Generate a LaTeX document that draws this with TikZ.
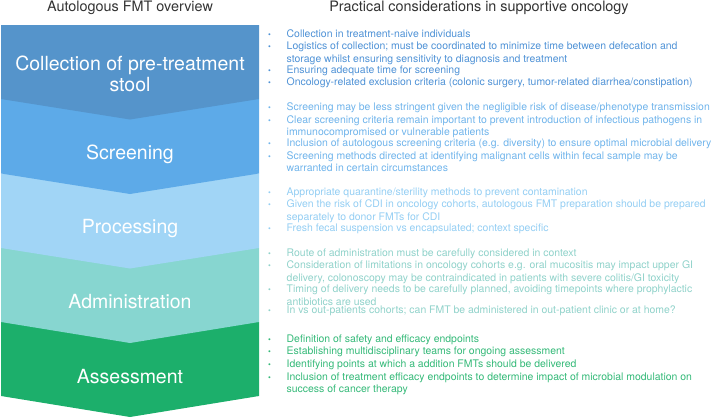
\documentclass[tikz,border=0pt]{standalone}
\usepackage{fontspec}
\setmainfont{TeX Gyre Heros}
\definecolor{cA}{HTML}{5594CB}
\definecolor{cB}{HTML}{5DAAE8}
\definecolor{cC}{HTML}{A1D5F6}
\definecolor{cD}{HTML}{87D6D0}
\definecolor{cE}{HTML}{1CAF6B}
\definecolor{tA}{HTML}{4F92D6}
\definecolor{tB}{HTML}{70B4EB}
\definecolor{tC}{HTML}{94CEF3}
\definecolor{tD}{HTML}{90D2CA}
\definecolor{tE}{HTML}{34B978}
\definecolor{ttl}{HTML}{333333}
\newcommand\bitem[1]{\par\noindent\makebox[19.5pt][l]{\hspace{1pt}{\fontsize{8}{8}\selectfont\textbullet}}\parbox[t]{440pt}{\baselineskip=12.6pt\raggedright #1}}
\newcommand\blist[1]{\parbox[t]{470pt}{\fontsize{10.45}{12.6}\selectfont\normalbaselineskip=12.6pt\baselineskip=12.6pt\parskip=0pt #1}}
\tikzset{
  ttlstyle/.style={text=ttl, font=\fontsize{14.4}{16}\selectfont, inner sep=0pt, anchor=base},
  lblstyle/.style={text=white, font=\fontsize{19.5}{21}\selectfont, inner sep=0pt, anchor=base, align=center},
  liststyle/.style={anchor=base west, inner sep=0pt}
}
\begin{document}
\begin{tikzpicture}[x=1pt,y=-1pt]
\useasboundingbox (0,0) rectangle (718,418);
% chevron blocks (drawn bottom first)
\fill[cE] (1,322) -- (259,322) -- (259,396) -- (130,417) -- (1,396) -- cycle;
\fill[cD] (1,248) -- (259,248) -- (259,322) -- (130,343) -- (1,322) -- cycle;
\fill[cC] (1,173.5) -- (259,173.5) -- (259,248) -- (130,268.5) -- (1,248) -- cycle;
\fill[cB] (1,99) -- (259,99) -- (259,173.5) -- (130,194) -- (1,173.5) -- cycle;
\fill[cA] (1,25) -- (259,25) -- (259,99) -- (130,119.5) -- (1,99) -- cycle;
% titles
\node[ttlstyle] (t1) at (130,11) {Autologous FMT overview};
\node[ttlstyle] (t2) at (479,11) {Practical considerations in supportive oncology};
% block labels
\node[lblstyle] (l1) at (130,91) {Collection of pre-treatment\\stool};
\node[lblstyle] (l2) at (130,159.5) {Screening};
\node[lblstyle] (l3) at (130,233.5) {Processing};
\node[lblstyle] (l4) at (130,308) {Administration};
\node[lblstyle] (l5) at (130,383) {Assessment};
% lists
\node[liststyle, text=tA] (r1) at (267,37) {\blist{%
\bitem{Collection in treatment-naive individuals}%
\bitem{Logistics of collection; must be coordinated to minimize time between defecation and\\storage whilst ensuring sensitivity to diagnosis and treatment}%
\bitem{Ensuring adequate time for screening}%
\bitem{Oncology-related exclusion criteria (colonic surgery, tumor-related diarrhea/constipation)}}};
\node[liststyle, text=tB] (r2) at (267,110.5) {\blist{%
\bitem{Screening may be less stringent given the negligible risk of disease/phenotype transmission}%
\bitem{Clear screening criteria remain important to prevent introduction of infectious pathogens in\\immunocompromised or vulnerable patients}%
\bitem{Inclusion of autologous screening criteria (e.g. diversity) to ensure optimal microbial delivery}%
\bitem{Screening methods directed at identifying malignant cells within fecal sample may be\\warranted in certain circumstances}}};
\node[liststyle, text=tC] (r3) at (267,195) {\blist{%
\bitem{Appropriate quarantine/sterility methods to prevent contamination}%
\bitem{Given the risk of CDI in oncology cohorts, autologous FMT preparation should be prepared\\separately to donor FMTs for CDI}%
\bitem{Fresh fecal suspension vs encapsulated; context specific}}};
\node[liststyle, text=tD] (r4) at (267,256.3) {\blist{%
\bitem{Route of administration must be carefully considered in context}%
\bitem{Consideration of limitations in oncology cohorts e.g. oral mucositis may impact upper GI\\delivery, colonoscopy may be contraindicated in patients with severe colitis/GI toxicity}%
\bitem{Timing of delivery needs to be carefully planned, avoiding timepoints where prophylactic\\antibiotics are used}%
\bitem{In vs out-patients cohorts; can FMT be administered in out-patient clinic or at home?}}};
\node[liststyle, text=tE] (r5) at (267,342.3) {\blist{%
\bitem{Definition of safety and efficacy endpoints}%
\bitem{Establishing multidisciplinary teams for ongoing assessment}%
\bitem{Identifying points at which a addition FMTs should be delivered}%
\bitem{Inclusion of treatment efficacy endpoints to determine impact of microbial modulation on\\success of cancer therapy}}};
\end{tikzpicture}
\end{document}
